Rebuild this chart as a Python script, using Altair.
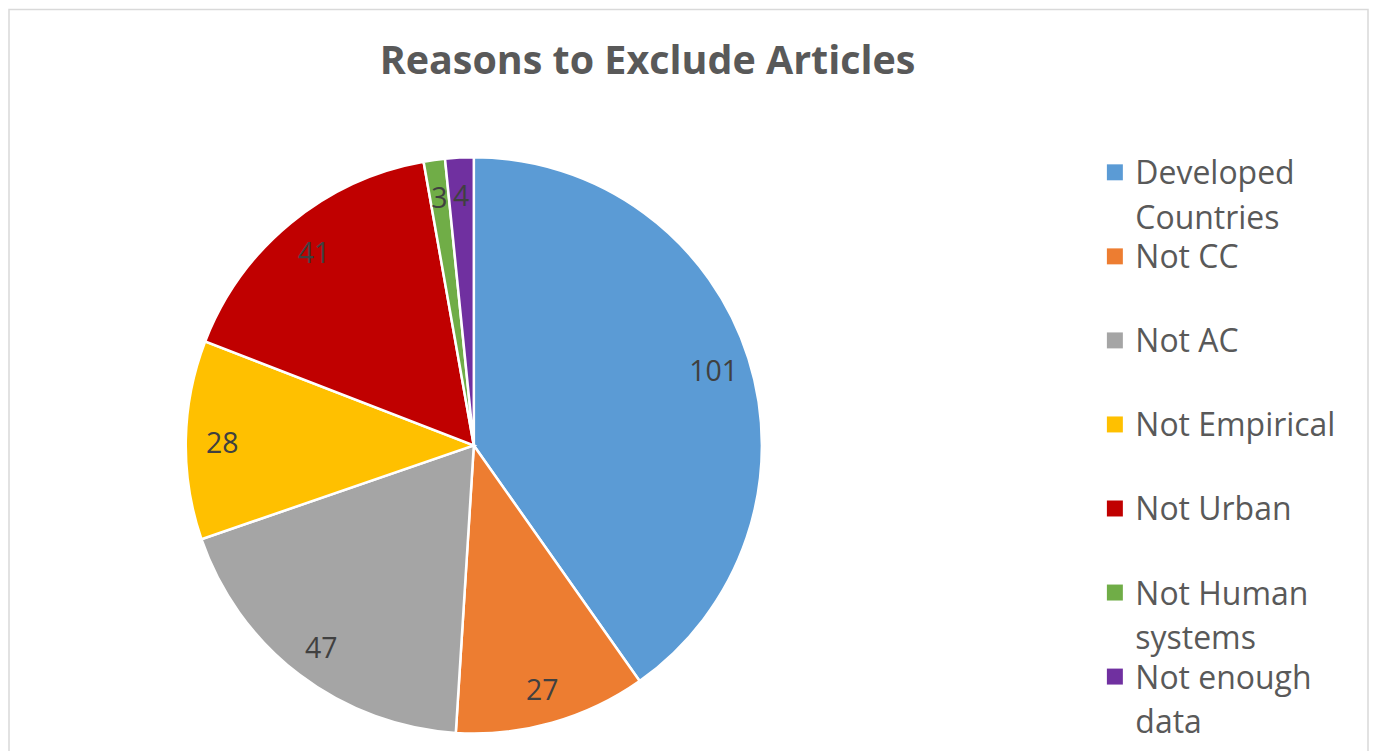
import altair as alt
import pandas as pd

categories = ["Developed Countries", "Not CC", "Not AC", "Not Empirical",
              "Not Urban", "Not Human systems", "Not enough data"]
values = [101, 27, 47, 28, 41, 3, 4]
legend_line1 = ["Developed", "Not CC", "Not AC", "Not Empirical",
                "Not Urban", "Not Human", "Not enough"]
legend_line2 = ["Countries", "", "", "", "", "systems", "data"]
colors = ["#5B9BD5", "#ED7D31", "#A5A5A5", "#FFC000", "#C00000", "#70AD47", "#7030A0"]
title_text = "Reasons to Exclude Articles"

df = pd.DataFrame({
    "idx": list(range(len(categories))),
    "category": categories,
    "value": values,
    "line1": legend_line1,
    "line2": legend_line2,
})

W, H = 1361, 760
CX, CY, R = 465.5, 436.5, 288.5
FONT = "Open Sans"

color = alt.Color("category:N", scale=alt.Scale(domain=categories, range=colors), legend=None)

base = alt.Chart(df)

pie = base.mark_arc(outerRadius=R, stroke="white", strokeWidth=2.5).encode(
    theta=alt.Theta("value:Q", stack=True),
    color=color,
    order=alt.Order("idx:Q"),
    x=alt.value(CX), y=alt.value(CY),
)

labels = base.mark_text(radius=252, fontSize=28.5, font=FONT, color="#404040",
                        align="center", baseline="middle", dy=3).encode(
    theta=alt.Theta("value:Q", stack=True),
    order=alt.Order("idx:Q"),
    text=alt.Text("value:Q"),
    x=alt.value(CX), y=alt.value(CY),
)

ypos = alt.Y("category:N", sort=categories, axis=None,
             scale=alt.Scale(type="point", domain=categories, range=[163, 668], padding=0))

leg_sq = base.mark_square(size=256, opacity=1).encode(
    y=ypos, x=alt.value(1107.5), color=color,
)
leg_t1 = base.mark_text(align="left", baseline="alphabetic", dy=12, fontSize=32,
                        font=FONT, color="#595959").encode(
    y=ypos, x=alt.value(1128), text="line1:N",
)
leg_t2 = base.mark_text(align="left", baseline="alphabetic", dy=57, fontSize=32,
                        font=FONT, color="#595959").encode(
    y=ypos, x=alt.value(1128), text="line2:N",
)

title = alt.Chart(pd.DataFrame({"t": [title_text]})).mark_text(
    align="center", baseline="alphabetic", fontSize=39.5, fontWeight="bold",
    font=FONT, color="#595959").encode(
    text="t:N", x=alt.value(639.5), y=alt.value(64.5),
)

chart = alt.layer(pie, labels, leg_sq, leg_t1, leg_t2, title).properties(
    width=W, height=H,
    autosize=alt.AutoSizeParams(type="none"),
    padding={"left": 1, "top": 1, "right": 1, "bottom": 0},
).configure_view(stroke="#D9D9D9", strokeWidth=1.5)

chart.save("out.html", embed_options={"renderer": "svg", "actions": False})
